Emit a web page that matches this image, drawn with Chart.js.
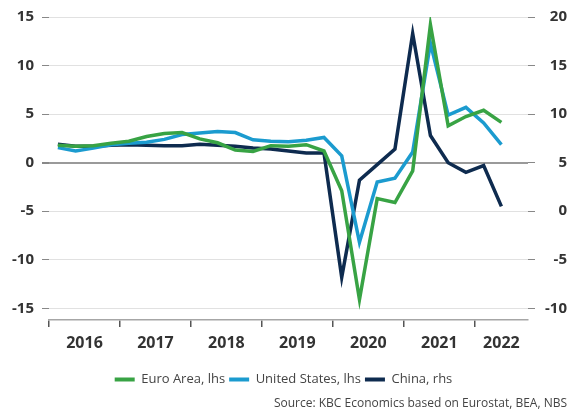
<!DOCTYPE html>
<html>
<head>
<meta charset="utf-8">
<script src="https://cdn.jsdelivr.net/npm/chart.js@4"></script>
<style>
  html, body { margin: 0; padding: 0; background: #fff; }
  #wrap { width: 572px; height: 416px; }
</style>
</head>
<body>
<div id="wrap"><canvas id="gdpChart"></canvas></div>
<script>
// quarterly real GDP growth, y/y %, 2016Q1 - 2022Q2
const quarters = ['2016Q1','2016Q2','2016Q3','2016Q4','2017Q1','2017Q2','2017Q3','2017Q4',
  '2018Q1','2018Q2','2018Q3','2018Q4','2019Q1','2019Q2','2019Q3','2019Q4',
  '2020Q1','2020Q2','2020Q3','2020Q4','2021Q1','2021Q2','2021Q3','2021Q4','2022Q1','2022Q2'];
const euroArea = [1.8, 1.7, 1.75, 2.0, 2.2, 2.7, 3.0, 3.1, 2.45, 2.05, 1.3, 1.15, 1.75, 1.7, 1.85, 1.2,
  -2.9, -14.1, -3.7, -4.1, -0.85, 14.2, 3.8, 4.75, 5.4, 4.15];
const unitedStates = [1.55, 1.2, 1.5, 1.85, 2.0, 2.1, 2.4, 2.9, 3.05, 3.2, 3.1, 2.35, 2.2, 2.15, 2.3, 2.6,
  0.7, -8.2, -2.0, -1.6, 1.1, 12.3, 4.9, 5.7, 4.1, 1.85];
const china = [6.9, 6.7, 6.7, 6.8, 6.85, 6.8, 6.75, 6.75, 6.9, 6.8, 6.7, 6.5, 6.4, 6.2, 6.0, 6.0,
  -6.8, 3.2, 4.8, 6.4, 18.3, 7.8, 5.0, 4.0, 4.7, 0.5];
const years = ['2016', '2017', '2018', '2019', '2020', '2021', '2022'];
const yearLabelPos = [2, 6, 10, 14, 18, 22, 25.5];   // in quarters from 2016Q1
const yearBounds = [0, 4, 8, 12, 16, 20, 24];

const FONT = "'Open Sans', 'DejaVu Sans', sans-serif";

function toPoints(values) {
  return values.map((v, i) => ({ x: i + 0.5, y: v }));
}

const ctx = document.getElementById('gdpChart').getContext('2d');

new Chart(ctx, {
  type: 'line',
  data: {
    labels: quarters,
    datasets: [
      { label: 'Euro Area, lhs', data: toPoints(euroArea), yAxisID: 'y',
        borderColor: '#38a344', backgroundColor: '#38a344' },
      { label: 'United States, lhs', data: toPoints(unitedStates), yAxisID: 'y',
        borderColor: '#1b9bcf', backgroundColor: '#1b9bcf' },
      { label: 'China, rhs', data: toPoints(china), yAxisID: 'y2',
        borderColor: '#0e2b4f', backgroundColor: '#0e2b4f' }
    ]
  },
  options: {
    responsive: true,
    maintainAspectRatio: false,
    animation: false,
    layout: { padding: { left: 0, right: 5, top: 16, bottom: 0 } },
    elements: {
      line: { borderWidth: 3.5, tension: 0, borderJoinStyle: 'miter' },
      point: { radius: 0 }
    },
    plugins: {
      tooltip: { enabled: false },
      legend: {
        position: 'bottom',
        labels: {
          boxWidth: 20,
          boxHeight: 4,
          padding: 4,
          color: '#444',
          font: { family: FONT, size: 13 },
          generateLabels: chart => chart.data.datasets.map((ds, i) => ({
            text: ds.label,
            fillStyle: ds.borderColor,
            strokeStyle: ds.borderColor,
            lineWidth: 0,
            hidden: false,
            datasetIndex: i,
            fontColor: '#444'
          }))
        }
      },
      subtitle: {
        display: true,
        position: 'bottom',
        align: 'end',
        text: 'Source: KBC Economics based on Eurostat, BEA, NBS',
        color: '#444',
        font: { family: FONT, size: 12, weight: 'normal' },
        padding: { top: 0, bottom: 5.6 }
      }
    },
    scales: {
      x: {
        type: 'linear',
        min: 0,
        max: 27,
        afterBuildTicks: axis => {
          const vals = yearBounds.concat(yearLabelPos).sort((a, b) => a - b);
          axis.ticks = vals.map(v => ({ value: v }));
        },
        afterFit: axis => { axis.height = 49; },
        border: { display: true, color: '#a6a6a6', width: 1.5 },
        grid: {
          drawOnChartArea: false,
          drawTicks: true,
          tickLength: 7,
          lineWidth: 1.5,
          color: c => (c.tick && yearBounds.includes(c.tick.value)) ? '#555' : 'rgba(0,0,0,0)'
        },
        ticks: {
          autoSkip: false,
          maxRotation: 0,
          padding: 7,
          color: '#333',
          font: { family: FONT, size: 16, weight: 'bold' },
          callback: value => {
            const k = yearLabelPos.indexOf(value);
            return k >= 0 ? years[k] : '';
          }
        }
      },
      y: {
        position: 'left',
        min: -16.2,
        max: 15,
        afterFit: axis => { axis.width = 49; },
        border: { display: false },
        grid: {
          tickLength: 7,
          tickColor: '#888',
          color: c => (c.tick && c.tick.value === 0) ? '#9a9a9a' : '#e1e1e1',
          lineWidth: c => (c.tick && c.tick.value === 0) ? 2 : 1
        },
        ticks: {
          stepSize: 5,
          includeBounds: false,
          padding: 8,
          color: '#333',
          font: { family: FONT, size: 15, weight: 'bold' }
        }
      },
      y2: {
        position: 'right',
        min: -11.2,
        max: 20,
        afterFit: axis => { axis.width = 39; },
        border: { display: false },
        grid: {
          drawOnChartArea: false,
          tickLength: 7,
          tickColor: '#888'
        },
        ticks: {
          stepSize: 5,
          includeBounds: false,
          crossAlign: 'far',
          color: '#333',
          font: { family: FONT, size: 15, weight: 'bold' }
        }
      }
    }
  }
});
</script>
</body>
</html>
